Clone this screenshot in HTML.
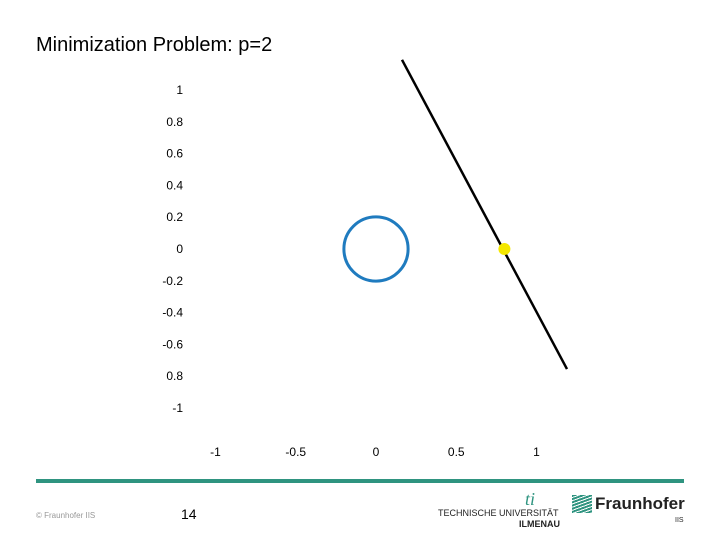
<!DOCTYPE html>
<html><head><meta charset="utf-8"><style>
body{margin:0;width:720px;height:540px;background:#fff;overflow:hidden;font-family:"Liberation Sans",sans-serif;position:relative}
</style></head><body>
<div style="position:absolute;left:36px;top:34px;font-size:20px;color:#000">Minimization Problem: p=2</div>
<svg id="chart" width="720" height="540" style="position:absolute;left:0;top:0"></svg>
<div style="position:absolute;left:36px;top:479px;width:648px;height:4px;background:#2f9480"></div>
<div style="position:absolute;left:36px;top:511px;font-size:8px;color:#999">© Fraunhofer IIS</div>
<div style="position:absolute;left:181px;top:506px;font-size:14px;color:#000">14</div>
<div style="position:absolute;left:438px;top:490px;width:124px;font-size:9px;color:#222;text-align:right;line-height:11px">
<div style="text-align:center;padding-left:60px;color:#2f9480;font-style:italic;font-size:18px;font-family:'Liberation Serif',serif;line-height:18px">ti</div>
<div style="text-align:left">TECHNISCHE UNIVERSITÄT</div><div style="font-weight:bold;padding-right:2px">ILMENAU</div></div>
<div style="position:absolute;left:572px;top:495px">
<div style="position:absolute;left:0;top:0;width:20px;height:18px;background:repeating-linear-gradient(160deg,#2f9480 0 2px,#fff 2px 3px)"></div>
<div style="position:absolute;left:23px;top:-1px;font-size:17px;font-weight:bold;color:#222">Fraunhofer</div>
<div style="position:absolute;left:103px;top:22px;font-size:7px;color:#222">IIS</div></div>
<script>
const xTicks=[-1,-0.5,0,0.5,1];
const yTicks=[1,0.8,0.6,0.4,0.2,0,-0.2,-0.4,-0.6,-0.8,-1];
const yTickLabels=["1","0.8","0.6","0.4","0.2","0","-0.2","-0.4","-0.6","0.8","-1"];
const circleRadius=[0.2];
const lineXs=[0.162,1.19];
const lineYs=[1.19,-0.755];
const pointX=[0.8];
const pointY=[0];
const sx=v=>376+v*160.5, sy=v=>249-v*159;
const svg=document.getElementById('chart'),NS='http://www.w3.org/2000/svg';
function mk(t,a){const e=document.createElementNS(NS,t);for(const k in a)e.setAttribute(k,a[k]);svg.appendChild(e);return e;}
xTicks.forEach(v=>{const e=mk('text',{x:sx(v),y:456,'font-size':12,'text-anchor':'middle',fill:'#000','font-family':'Liberation Sans'});e.textContent=String(v);

});
yTicks.forEach((v,i)=>{const e=mk('text',{x:183,y:sy(v)+4,'font-size':12,'text-anchor':'end',fill:'#000','font-family':'Liberation Sans'});e.textContent=yTickLabels[i];

});
circleRadius.forEach(r=>{const c=mk('circle',{cx:sx(0),cy:sy(0),r:(sx(r)-sx(0)),fill:'none',stroke:'#1f7bbf','stroke-width':3});

});
const l=mk('line',{x1:sx(lineXs[0]),y1:sy(lineYs[0]),x2:sx(lineXs[1]),y2:sy(lineYs[1]),stroke:'#000','stroke-width':2.5});


pointX.forEach((x,i)=>{const p=mk('circle',{cx:sx(x),cy:sy(pointY[i]),r:6,fill:'#f5e800'});

});
</script>
</body></html>
